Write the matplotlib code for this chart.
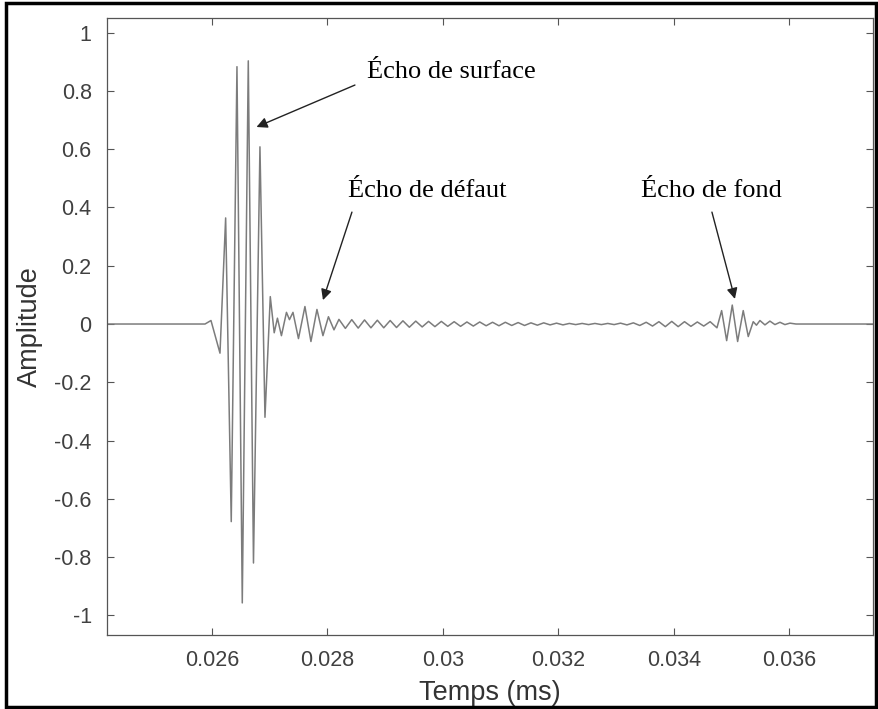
import matplotlib
matplotlib.use("Agg")
import matplotlib.pyplot as plt
from matplotlib.patches import Rectangle

plt.rcParams["axes.unicode_minus"] = False

# extrema of the recorded signal (time in ms, amplitude)
echo_t = [0.02418, 0.02588, 0.025983, 0.026139, 0.026237, 0.026334, 0.026433,
          0.026525, 0.026629, 0.026719, 0.026831, 0.026918, 0.02701,
          0.027078, 0.027134, 0.027203, 0.02729, 0.027342, 0.027403, 0.027498,
          0.02761, 0.027714, 0.027818, 0.027922, 0.028017, 0.028113]
echo_a = [0.0, 0.0, 0.012, -0.10, 0.364, -0.678, 0.883,
          -0.957, 0.903, -0.82, 0.608, -0.32, 0.094,
          -0.03, 0.02, -0.04, 0.04, 0.015, 0.04, -0.05,
          0.06, -0.06, 0.05, -0.04, 0.025, -0.02]

ripple_t = [0.028199, 0.02831, 0.028421, 0.028532, 0.028642, 0.028753, 0.028864,
            0.028975, 0.029086, 0.029196, 0.029307, 0.029418, 0.029529, 0.02964,
            0.029751, 0.029861, 0.029972, 0.030083, 0.030194, 0.030305, 0.030415,
            0.030526, 0.030637, 0.030748, 0.030859, 0.03097, 0.03108, 0.031191,
            0.031302, 0.031413, 0.031524, 0.031635, 0.031745, 0.031856, 0.031967,
            0.032078, 0.032189, 0.032299, 0.03241, 0.032521, 0.032632, 0.032743,
            0.032854, 0.032964, 0.033075, 0.033186, 0.033297, 0.033408, 0.033519,
            0.033629, 0.03374, 0.033851, 0.033962, 0.034073, 0.034183, 0.034294,
            0.034405, 0.034516, 0.034627]
ripple_a = [0.016, -0.015, 0.015, -0.014, 0.014, -0.013, 0.013,
            -0.013, 0.012, -0.012, 0.011, -0.011, 0.010, -0.010,
            0.009, -0.009, 0.009, -0.008, 0.008, -0.008, 0.007,
            -0.007, 0.007, -0.006, 0.006, -0.006, 0.006, -0.005,
            0.005, -0.005, 0.004, -0.004, 0.004, -0.003, 0.003,
            -0.003, 0.002, -0.002, 0.002, -0.002, 0.002, -0.002,
            0.002, -0.002, 0.003, -0.003, 0.004, -0.005, 0.006,
            -0.007, 0.008, -0.009, 0.009, -0.009, 0.008, -0.008,
            0.007, -0.007, 0.008]

back_t = [0.034745, 0.034826, 0.034913, 0.03501, 0.035103, 0.0352, 0.035287,
          0.035373, 0.035429, 0.035489, 0.035576, 0.035662, 0.035749, 0.035836,
          0.035922, 0.036009, 0.036113, 0.03745]
back_a = [-0.013, 0.046, -0.057, 0.065, -0.06, 0.046, -0.043,
          0.008, -0.004, 0.012, -0.003, 0.010, -0.002, 0.006,
          -0.002, 0.003, 0.0, 0.0]

x_ticks = [0.026, 0.028, 0.030, 0.032, 0.034, 0.036]
x_labels = ["0.026", "0.028", "0.03", "0.032", "0.034", "0.036"]
y_ticks = [1, 0.8, 0.6, 0.4, 0.2, 0, -0.2, -0.4, -0.6, -0.8, -1]
y_labels = ["1", "0.8", "0.6", "0.4", "0.2", "0", "-0.2", "-0.4", "-0.6", "-0.8", "-1"]

t = echo_t + ripple_t + back_t
a = echo_a + ripple_a + back_a

fig = plt.figure(figsize=(8.79, 7.09), dpi=100)
ax = fig.add_axes([0.1217, 0.1044, 0.8714, 0.8702])
ax.plot(t, a, color="#7c7c7c", lw=1.1)

ax.set_xlim(0.024182, 0.037446)
ax.set_ylim(-1.067, 1.05)
ax.set_xticks(x_ticks)
ax.set_xticklabels(x_labels)
ax.set_yticks(y_ticks)
ax.set_yticklabels(y_labels)
ax.tick_params(direction="in", top=True, right=True, length=5, width=0.8,
               color="#555555", labelsize=15.5, labelcolor="#404040", pad=11)
for lab in ax.get_xticklabels() + ax.get_yticklabels():
    lab.set_family("Liberation Sans")
for s in ax.spines.values():
    s.set_color("#555555")
    s.set_linewidth(0.9)

ax.set_xlabel("Temps (ms)", family="Liberation Sans", fontsize=19.5, color="#333333", labelpad=6)
ax.set_ylabel("Amplitude", family="Liberation Sans", fontsize=19.5, color="#333333", labelpad=8)

# annotations
arrow = dict(arrowstyle="-|>", color="#222222", lw=1.0, mutation_scale=16,
             shrinkA=0, shrinkB=0)
serif = dict(family="Liberation Serif", fontsize=19, color="#000000", va="baseline", ha="left")
ax.annotate("", xy=(0.026771, 0.676), xytext=(0.028476, 0.82), arrowprops=arrow)
ax.text(0.028684, 0.844, "Écho de surface", **serif)
ax.annotate("", xy=(0.027922, 0.082), xytext=(0.028424, 0.384), arrowprops=arrow)
ax.text(0.028355, 0.436, "Écho de défaut", **serif)
ax.annotate("", xy=(0.035056, 0.086), xytext=(0.034658, 0.384), arrowprops=arrow)
ax.text(0.033429, 0.436, "Écho de fond", **serif)

# black frame round the picture
fig.add_artist(Rectangle((6.5 / 879, 2.5 / 709), 869.5 / 879, 704 / 709,
                         transform=fig.transFigure, fill=False, lw=2.5, ec="black"))

fig.savefig("out.png", dpi=100)
